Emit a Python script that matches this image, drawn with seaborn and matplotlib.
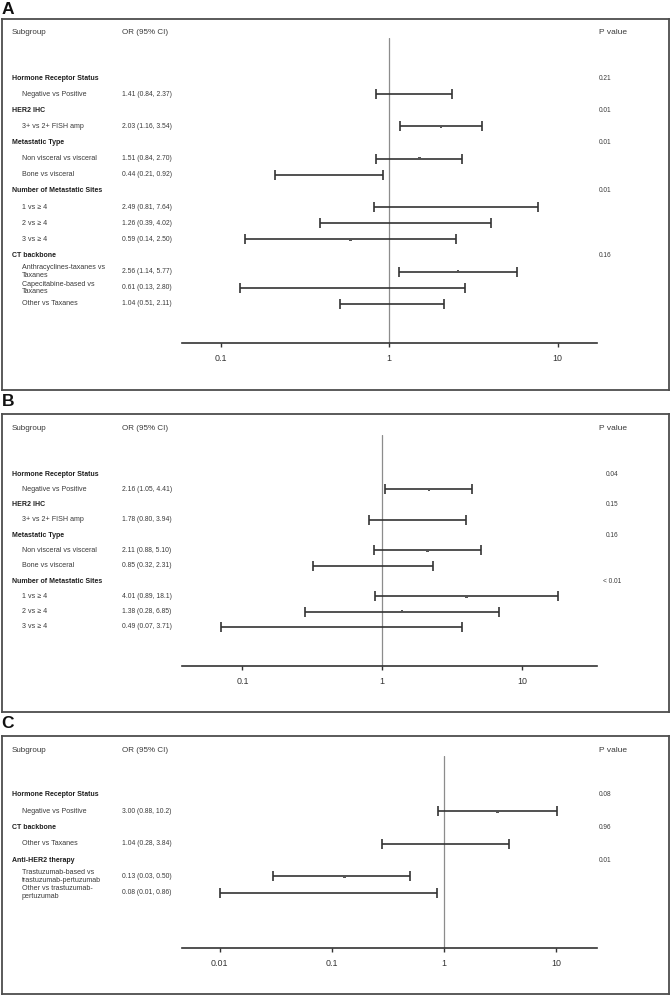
import numpy as np
import pandas as pd
import matplotlib
matplotlib.use("Agg")
import matplotlib.pyplot as plt
import matplotlib.transforms as mtransforms
from matplotlib.ticker import FixedLocator, FixedFormatter, NullLocator
import seaborn as sns

nan = np.nan

# ---------------- data ----------------
A_labels = ["Hormone Receptor Status", "Negative vs Positive", "HER2 IHC", "3+ vs 2+ FISH amp",
            "Metastatic Type", "Non visceral vs visceral", "Bone vs visceral",
            "Number of Metastatic Sites", "1 vs \u2265 4", "2 vs \u2265 4", "3 vs \u2265 4",
            "CT backbone", "Anthracyclines-taxanes vs\nTaxanes", "Capecitabine-based vs\nTaxanes",
            "Other vs Taxanes"]
A_header = [True, False, True, False, True, False, False, True, False, False, False,
            True, False, False, False]
A_or = [nan, 1.41, nan, 2.03, nan, 1.51, 0.44, nan, 2.49, 1.26, 0.59, nan, 2.56, 0.61, 1.04]
A_lo = [nan, 0.84, nan, 1.16, nan, 0.84, 0.21, nan, 0.81, 0.39, 0.14, nan, 1.14, 0.13, 0.51]
A_hi = [nan, 2.37, nan, 3.54, nan, 2.70, 0.92, nan, 7.64, 4.02, 2.50, nan, 5.77, 2.80, 2.11]
A_ci = ["", "1.41 (0.84, 2.37)", "", "2.03 (1.16, 3.54)", "", "1.51 (0.84, 2.70)",
        "0.44 (0.21, 0.92)", "", "2.49 (0.81, 7.64)", "1.26 (0.39, 4.02)", "0.59 (0.14, 2.50)",
        "", "2.56 (1.14, 5.77)", "0.61 (0.13, 2.80)", "1.04 (0.51, 2.11)"]
A_p = ["0.21", "", "0.01", "", "0.01", "", "", "0.01", "", "", "", "0.16", "", "", ""]
A_ticks = [0.1, 1, 10]
A_ticklabels = ["0.1", "1", "10"]

B_labels = ["Hormone Receptor Status", "Negative vs Positive", "HER2 IHC", "3+ vs 2+ FISH amp",
            "Metastatic Type", "Non visceral vs visceral", "Bone vs visceral",
            "Number of Metastatic Sites", "1 vs \u2265 4", "2 vs \u2265 4", "3 vs \u2265 4"]
B_header = [True, False, True, False, True, False, False, True, False, False, False]
B_or = [nan, 2.16, nan, 1.78, nan, 2.11, 0.85, nan, 4.01, 1.38, 0.49]
B_lo = [nan, 1.05, nan, 0.80, nan, 0.88, 0.32, nan, 0.89, 0.28, 0.07]
B_hi = [nan, 4.41, nan, 3.94, nan, 5.10, 2.31, nan, 18.1, 6.85, 3.71]
B_ci = ["", "2.16 (1.05, 4.41)", "", "1.78 (0.80, 3.94)", "", "2.11 (0.88, 5.10)",
        "0.85 (0.32, 2.31)", "", "4.01 (0.89, 18.1)", "1.38 (0.28, 6.85)", "0.49 (0.07, 3.71)"]
B_p = ["0.04", "", "0.15", "", "0.16", "", "", "< 0.01", "", "", ""]
B_ticks = [0.1, 1, 10]
B_ticklabels = ["0.1", "1", "10"]

C_labels = ["Hormone Receptor Status", "Negative vs Positive", "CT backbone", "Other vs Taxanes",
            "Anti-HER2 therapy", "Trastuzumab-based vs\ntrastuzumab-pertuzumab",
            "Other vs trastuzumab-\npertuzumab"]
C_header = [True, False, True, False, True, False, False]
C_or = [nan, 3.00, nan, 1.04, nan, 0.13, 0.08]
C_lo = [nan, 0.88, nan, 0.28, nan, 0.03, 0.01]
C_hi = [nan, 10.2, nan, 3.84, nan, 0.50, 0.86]
C_ci = ["", "3.00 (0.88, 10.2)", "", "1.04 (0.28, 3.84)", "", "0.13 (0.03, 0.50)",
        "0.08 (0.01, 0.86)"]
C_p = ["0.08", "", "0.96", "", "0.01", "", ""]
C_ticks = [0.01, 0.1, 1, 10]
C_ticklabels = ["0.01", "0.1", "1", "10"]

# ---------------- style ----------------
sns.set_theme(style="white")
plt.rcParams["font.family"] = ["Liberation Sans", "DejaVu Sans"]

W, H = 670, 996
fig = plt.figure(figsize=(W / 100, H / 100), dpi=100)
fig.patch.set_facecolor("white")

TXT = "#3a3a3a"
BOLD = "#1e1e1e"
LINE = "#333333"
BOX = "#4d4d4d"


def fx(px):
    return px / W


def fy(py):
    return 1 - py / H


# layout per panel (pixel geometry)
panels = [
    dict(letter="A", letter_y=2, box=(19, 390), vtop=38, axis=343, row0=78, sp=16.14,
         header_y=33, xlim=(0.059, 17.1), p_x=599, p_ha="left",
         labels=A_labels, header=A_header, orv=A_or, lo=A_lo, hi=A_hi, ci=A_ci, p=A_p,
         ticks=A_ticks, ticklabels=A_ticklabels),
    dict(letter="B", letter_y=394, box=(414, 712), vtop=435, axis=666, row0=474, sp=15.3,
         header_y=429, xlim=(0.037, 34.3), p_x=612, p_ha="center",
         labels=B_labels, header=B_header, orv=B_or, lo=B_lo, hi=B_hi, ci=B_ci, p=B_p,
         ticks=B_ticks, ticklabels=B_ticklabels),
    dict(letter="C", letter_y=716, box=(736, 994), vtop=756, axis=948, row0=795, sp=16.3,
         header_y=750, xlim=(0.0046, 23.2), p_x=599, p_ha="left",
         labels=C_labels, header=C_header, orv=C_or, lo=C_lo, hi=C_hi, ci=C_ci, p=C_p,
         ticks=C_ticks, ticklabels=C_ticklabels),
]

AX_L, AX_R = 182, 597

for P in panels:
    y0, y1 = P["box"]
    # outer frame
    axb = fig.add_axes([fx(1.5), fy(y1), fx(667), (y1 - y0) / H])
    axb.set_xticks([])
    axb.set_yticks([])
    axb.set_facecolor("none")
    for s in axb.spines.values():
        s.set_color(BOX)
        s.set_linewidth(1.3)
        s.set_visible(True)
    fig.text(fx(1.5), fy(P["letter_y"]), P["letter"], fontsize=12.5, fontweight="bold",
             color="#111111", va="top", ha="left")

    # forest axes
    ax = fig.add_axes([fx(AX_L), fy(P["axis"]), fx(AX_R - AX_L), (P["axis"] - P["vtop"]) / H])
    ax.set_facecolor("none")
    ax.set_xscale("log")
    ax.set_xlim(*P["xlim"])
    ytop = (P["vtop"] - P["row0"]) / P["sp"]
    ybot = (P["axis"] - P["row0"]) / P["sp"]
    ax.set_ylim(ybot, ytop)
    for side in ["left", "right", "top"]:
        ax.spines[side].set_visible(False)
    ax.spines["bottom"].set_color(LINE)
    ax.spines["bottom"].set_linewidth(1.2)
    ax.xaxis.set_major_locator(FixedLocator(P["ticks"]))
    ax.xaxis.set_major_formatter(FixedFormatter(P["ticklabels"]))
    ax.xaxis.set_minor_locator(NullLocator())
    ax.set_yticks([])
    ax.tick_params(axis="x", which="major", direction="out", length=3, width=1.0,
                   color=LINE, labelsize=6.4, labelcolor="#333333", pad=5, bottom=True)
    ax.grid(False)

    ax.axvline(1, color="#8c8c8c", lw=0.9, zorder=1)

    n = len(P["labels"])
    rows = np.arange(n)
    df = pd.DataFrame(dict(row=rows, orv=P["orv"], lo=P["lo"], hi=P["hi"]))
    dd = df.dropna()
    ax.errorbar(dd["orv"], dd["row"], xerr=[dd["orv"] - dd["lo"], dd["hi"] - dd["orv"]],
                fmt="none", ecolor=LINE, elinewidth=1.2, capsize=3.4, capthick=1.2, zorder=3)
    sns.scatterplot(data=dd, x="orv", y="row", ax=ax, s=3, marker="s", color="#555555",
                    edgecolor="none", legend=False, zorder=4)
    ax.set_xlabel("")
    ax.set_ylabel("")

    tr = mtransforms.blended_transform_factory(fig.transFigure, ax.transData)
    hy = (P["header_y"] - P["row0"]) / P["sp"]
    ax.text(fx(12), hy, "Subgroup", transform=tr, fontsize=5.8, color=TXT, va="center",
            ha="left", clip_on=False)
    ax.text(fx(122), hy, "OR (95% CI)", transform=tr, fontsize=5.8, color=TXT, va="center",
            ha="left", clip_on=False)
    ax.text(fx(613), hy, "P value", transform=tr, fontsize=6.0, color=TXT, va="center",
            ha="center", clip_on=False)

    for i in range(n):
        if P["header"][i]:
            ax.text(fx(12), i, P["labels"][i], transform=tr, fontsize=5.0, fontweight="bold",
                    color=BOLD, va="center", ha="left", clip_on=False)
        else:
            ax.text(fx(22), i, P["labels"][i], transform=tr, fontsize=5.1, color=TXT,
                    va="center", ha="left", linespacing=1.12, clip_on=False)
        if P["ci"][i]:
            ax.text(fx(122), i, P["ci"][i], transform=tr, fontsize=4.9, color=TXT,
                    va="center", ha="left", clip_on=False)
        if P["p"][i]:
            ax.text(fx(P["p_x"]), i, P["p"][i], transform=tr, fontsize=4.7, color=TXT,
                    va="center", ha=P["p_ha"], clip_on=False)

fig.savefig("out.png", dpi=100, facecolor="white")
